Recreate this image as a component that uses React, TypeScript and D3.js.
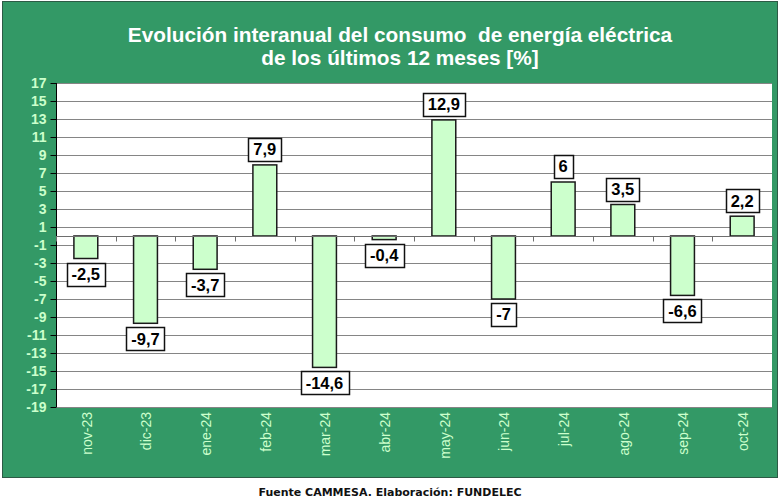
import React, { useEffect, useRef } from 'react'
import * as d3 from 'd3'

const months = ['nov-23', 'dic-23', 'ene-24', 'feb-24', 'mar-24', 'abr-24', 'may-24', 'jun-24', 'jul-24', 'ago-24', 'sep-24', 'oct-24']
const variation = [-2.5, -9.7, -3.7, 7.9, -14.6, -0.4, 12.9, -7, 6, 3.5, -6.6, 2.2]
const yTicks = d3.range(-19, 18, 2)
const titleLines = ['Evolución interanual del consumo  de energía eléctrica', 'de los últimos 12 meses [%]']
const footer = 'Fuente CAMMESA. Elaboración: FUNDELEC'

const App = () => {
    const svgRef = useRef<SVGSVGElement>(null)

    useEffect(() => {
        const width = 780
        const height = 502
        const plot = { left: 56, right: 772, top: 83, bottom: 407 }
        const font = 'Arial, "Liberation Sans", sans-serif'

        const svg = d3.select(svgRef.current)
        svg.selectAll('*').remove()
        svg.attr('width', width).attr('height', height)

        // green panel behind everything
        svg.append('rect')
            .attr('x', 2.5).attr('y', 1.5)
            .attr('width', 775).attr('height', 476)
            .attr('fill', '#339966')
            .attr('stroke', '#2d5a45')

        svg.append('g')
            .selectAll('text')
            .data(titleLines)
            .enter()
            .append('text')
            .attr('x', 400)
            .attr('y', (d, i) => 41.5 + i * 23.5)
            .attr('text-anchor', 'middle')
            .style('white-space', 'pre')
            .style('font-family', font)
            .style('font-weight', 'bold')
            .style('font-size', '20.8px')
            .attr('fill', '#ffffff')
            .text(d => d)

        const x = d3.scaleBand()
            .domain(months)
            .range([plot.left, plot.right])
            .paddingInner(0.6)
            .paddingOuter(0.3)

        const y = d3.scaleLinear()
            .domain([-19, 17])
            .range([plot.bottom, plot.top])

        svg.append('rect')
            .attr('x', plot.left).attr('y', plot.top)
            .attr('width', plot.right - plot.left)
            .attr('height', plot.bottom - plot.top)
            .attr('fill', '#ffffff')

        // horizontal gridlines
        svg.append('g')
            .selectAll('line')
            .data(yTicks)
            .enter()
            .append('line')
            .attr('x1', plot.left).attr('x2', plot.right)
            .attr('y1', d => Math.round(y(d)) + 0.5)
            .attr('y2', d => Math.round(y(d)) + 0.5)
            .attr('stroke', '#858585')
            .attr('stroke-width', 1)

        // left value axis
        const yAxis = svg.append('g')
            .attr('transform', `translate(${plot.left + 0.5},0)`)
            .call(d3.axisLeft(y).tickValues(yTicks).tickSize(6).tickPadding(4).tickFormat(d => String(d)))
        yAxis.select('.domain').attr('stroke', '#000').attr('d', `M0,${plot.top}V${plot.bottom}`)
        yAxis.selectAll('.tick line').attr('stroke', '#000')
        yAxis.selectAll('.tick text')
            .attr('fill', '#ccffcc')
            .style('font-family', font)
            .style('font-weight', 'bold')
            .style('font-size', '14px')

        // bars
        svg.append('g')
            .selectAll('rect')
            .data(variation)
            .enter()
            .append('rect')
            .attr('x', (d, i) => x(months[i]))
            .attr('y', d => y(Math.max(0, d)))
            .attr('width', x.bandwidth())
            .attr('height', d => Math.abs(y(d) - y(0)))
            .attr('fill', '#ccffcc')
            .attr('stroke', '#1a1a1a')
            .attr('stroke-width', 1.5)

        // category axis along zero
        const zeroY = Math.round(y(0)) + 0.5
        const step = x.step()
        svg.append('line')
            .attr('x1', plot.left).attr('x2', plot.right)
            .attr('y1', zeroY).attr('y2', zeroY)
            .attr('stroke', '#6e6e6e')
        svg.append('g')
            .selectAll('line')
            .data(d3.range(months.length + 1))
            .enter()
            .append('line')
            .attr('x1', i => Math.round(plot.left + i * step) + 0.5)
            .attr('x2', i => Math.round(plot.left + i * step) + 0.5)
            .attr('y1', zeroY).attr('y2', zeroY + 5)
            .attr('stroke', '#6e6e6e')

        // month labels, rotated
        svg.append('g')
            .selectAll('text')
            .data(months)
            .enter()
            .append('text')
            .attr('transform', d => `translate(${x(d) + x.bandwidth() / 2 + 1},${plot.bottom + 5}) rotate(-90)`)
            .attr('text-anchor', 'end')
            .attr('dy', '0.35em')
            .style('font-family', font)
            .style('font-size', '14px')
            .attr('fill', '#ccffcc')
            .text(d => d)

        // value labels in boxes
        const labels = svg.append('g')
            .selectAll('g')
            .data(variation)
            .enter()
            .append('g')
        labels.append('text')
            .attr('x', (d, i) => x(months[i]) + x.bandwidth() / 2)
            .attr('y', d => d >= 0 ? y(d) - 4 - 11.5 : y(d) + 4 + 11.5)
            .attr('dy', '0.36em')
            .attr('text-anchor', 'middle')
            .style('font-family', font)
            .style('font-weight', 'bold')
            .style('font-size', '16.5px')
            .attr('fill', '#000')
            .text(d => String(d).replace('.', ','))
        labels.each(function () {
            const g = d3.select(this)
            const t = g.select('text').node() as SVGTextElement
            const b = t.getBBox()
            const cy = +t.getAttribute('y')!
            g.insert('rect', 'text')
                .attr('x', Math.round(b.x - 5) + 0.5)
                .attr('y', Math.round(cy - 11.5) + 0.5)
                .attr('width', Math.round(b.width + 10))
                .attr('height', 23)
                .attr('fill', '#ffffff')
                .attr('stroke', '#111')
                .attr('stroke-width', 1.5)
        })

        svg.append('text')
            .attr('x', 390)
            .attr('y', 496)
            .attr('text-anchor', 'middle')
            .style('font-family', '"DejaVu Sans", Verdana, sans-serif')
            .style('font-weight', 'bold')
            .style('font-size', '11px')
            .attr('fill', '#111')
            .text(footer)
    }, [])

    return (
        <svg ref={svgRef} style={{ position: 'absolute', left: 0, top: 0, background: '#fff' }} />
    )
}

export default App
